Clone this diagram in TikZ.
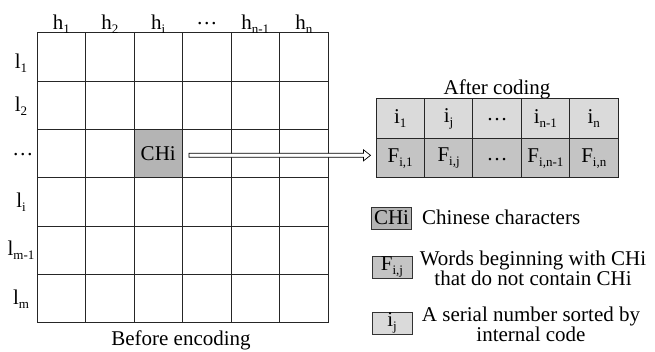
\documentclass[tikz,border=0pt]{standalone}
\usepackage{fontspec}
\setmainfont{Liberation Serif}
\usetikzlibrary{calc}
\definecolor{chigray}{HTML}{B4B4B4}
\definecolor{lightg}{HTML}{DADADA}
\definecolor{midg}{HTML}{C4C4C4}
\newcommand\sbs[1]{\raisebox{-4pt}{\fontsize{13}{13}\selectfont #1}}
\newcommand\dts[1]{\raisebox{#1}[2pt][0pt]{…}}
\begin{document}
\begin{tikzpicture}[x=1pt,y=-1pt,font=\fontsize{21}{18}\selectfont,
  cell/.style={draw=black!85,line width=1pt,minimum width=48.5pt,minimum height=48.33pt,inner sep=0pt},
  tcell/.style={draw=black!85,line width=1pt,minimum width=48.4pt,minimum height=39.5pt,inner sep=0pt},
  legbox/.style={draw=black!80,line width=0.8pt,minimum width=40pt,minimum height=22pt,inner sep=0pt},
  lab/.style={inner sep=0pt},
  arr/.style={draw=black,line width=0.7pt,fill=white}]
\useasboundingbox (0,0) rectangle (655,352);
% grid
\foreach \r in {1,...,6}{
  \foreach \c in {1,...,6}{
    \pgfmathtruncatemacro{\isc}{and(\r==3,\c==3)}
    \ifnum\isc=1\relax\else
      \node[cell] (g\r\c) at ({37+48.5*(\c-0.5)},{33+48.33*(\r-0.5)}) {};
    \fi
  }
}
\node[cell,fill=chigray] (chi) at ({37+48.5*2.5},{33+48.33*2.5}) {CHi};
% column labels
\node[lab,anchor=base] (h1) at (61.25,30) {h\sbs{1}};
\node[lab,anchor=base] (h2) at (109.75,30) {h\sbs{2}};
\node[lab,anchor=base] (hi) at (158.25,30) {h\sbs{i}};
\node[lab,anchor=base] (hd) at (206.75,30) {\dts{5.5pt}};
\node[lab,anchor=base] (hn1) at (255.25,30) {h\sbs{n-1}};
\node[lab,anchor=base] (hn) at (303.75,30) {h\sbs{n}};
% row labels
\node[lab,anchor=base] (l1) at (21,69) {l\sbs{1}};
\node[lab,anchor=base] (l2) at (21,112) {l\sbs{2}};
\node[lab,anchor=base] (ld) at (23,161) {\dts{5.5pt}};
\node[lab,anchor=base] (li) at (21,207.5) {l\sbs{i}};
\node[lab,anchor=base] (lm1) at (21,256) {l\sbs{m-1}};
\node[lab,anchor=base] (lm) at (21,304) {l\sbs{m}};
\node[lab,anchor=base] (before) at (181,345) {Before encoding};
% coded table
\node[lab,anchor=base] (after) at (497,95) {After coding};
\node[tcell,fill=lightg] (i1) at (400.2,118.75) {i\sbs{1}};
\node[tcell,fill=lightg] (ij) at (448.6,118.75) {i\sbs{j}};
\node[tcell,fill=lightg] (id) at (497,118.75) {\dts{-1pt}};
\node[tcell,fill=lightg] (in1) at (545.4,118.75) {i\sbs{n-1}};
\node[tcell,fill=lightg] (in) at (593.8,118.75) {i\sbs{n}};
\node[tcell,fill=midg] (f1) at (400.2,158.25) {F\sbs{i,1}};
\node[tcell,fill=midg] (fj) at (448.6,158.25) {F\sbs{i,j}};
\node[tcell,fill=midg] (fd) at (497,158.25) {\dts{-1pt}};
\node[tcell,fill=midg] (fn1) at (545.4,158.25) {F\sbs{i,n-1}};
\node[tcell,fill=midg] (fn) at (593.8,158.25) {F\sbs{i,n}};
% arrow
\coordinate (as) at ($(chi.east)+(6,1.5)$);
\coordinate (ae) at ($(f1.west |- as)+(-5,0)$);
\draw[arr] ($(as)+(0,-2)$) -- ($(ae)+(-7,-2)$) -- ($(ae)+(-7,-5.5)$) -- (ae)
  -- ($(ae)+(-7,5.5)$) -- ($(ae)+(-7,2)$) -- ($(as)+(0,2)$) -- cycle;
% legend
\node[legbox,fill=chigray] (kchi) at (391.5,218) {CHi};
\node[lab,anchor=base west] (tchi) at (422,225) {Chinese characters};
\node[legbox,fill=midg] (kf) at (392,267) {F\sbs{i,j}};
\node[lab,anchor=north,align=center] (tf) at (533,250.5) {Words beginning with CHi\\that do not contain CHi};
\node[legbox,fill=lightg] (ki) at (392,323) {i\sbs{j}};
\node[lab,anchor=north,align=center] (ti) at (531,306.5) {A serial number sorted by\\internal code};
\end{tikzpicture}
\end{document}
